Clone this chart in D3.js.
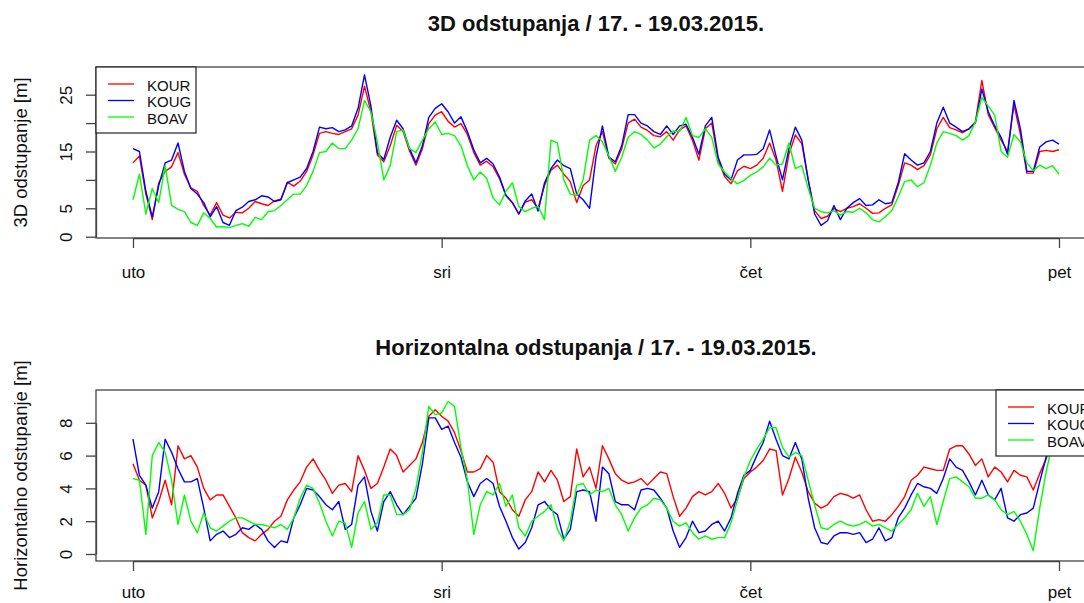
<!DOCTYPE html>
<html>
<head>
<meta charset="utf-8">
<script src="https://cdn.jsdelivr.net/npm/d3@7"></script>
<style>
  body { margin: 0; background: #fff; }
  svg { display: block; }
  text { font-family: "Liberation Sans", Arial, sans-serif; fill: #111; }
</style>
</head>
<body>
<svg id="chart" width="1084" height="603"></svg>
<script>
// Station names, colours and day labels
const seriesNames = ["KOUR", "KOUG", "BOAV"];
const seriesColors = ["#ff0000", "#0000ff", "#00ff00"];
const dayLabels = ["uto", "sri", "čet", "pet"];

// Sampling: half-hourly from Tuesday 17.03.2015 00:00
const startTime = new Date(2015, 2, 17, 0, 0);
const endTime = new Date(2015, 2, 20, 0, 0);
const stepMinutes = 30;

// 3D deviations [m]
const d3KOUR = [
  13.0, 14.2, 7.5, 3.0, 9.5, 11.5, 12.3, 14.8, 11.0, 8.6,
  8.0, 5.5, 3.8, 6.0, 3.8, 3.3, 4.3, 4.2, 5.0, 6.2,
  5.8, 5.5, 6.3, 6.6, 9.6, 8.9, 9.8, 11.5, 14.4, 18.2,
  18.5, 18.2, 18.0, 18.5, 19.0, 21.4, 26.5, 22.0, 14.4, 13.2,
  16.0, 19.6, 18.5, 15.1, 12.6, 15.5, 19.9, 21.4, 22.0, 20.3,
  19.3, 19.9, 18.0, 14.8, 12.6, 13.3, 12.3, 10.2, 7.2, 6.0,
  4.0, 6.1, 6.5, 5.0, 9.0, 11.7, 12.6, 11.0, 9.7, 6.0,
  9.0, 10.0, 16.0, 18.5, 13.8, 12.8, 15.5, 20.0, 20.7, 19.3,
  18.7, 17.8, 17.6, 18.5, 17.0, 18.8, 19.5, 17.0, 13.5, 19.0,
  20.0, 13.5, 10.6, 9.3, 11.6, 12.4, 12.0, 12.6, 13.8, 16.5,
  13.5, 8.0, 14.5, 17.9, 16.4, 10.0, 4.6, 3.2, 3.6, 5.0,
  4.4, 5.0, 5.3, 5.8, 5.0, 4.1, 4.2, 5.0, 5.6, 9.0,
  13.0, 12.6, 11.8, 12.5, 14.4, 19.0, 21.0, 19.2, 18.8, 18.3,
  19.0, 20.2, 27.5, 21.5, 19.2, 17.0, 15.0, 23.2, 18.0, 11.2,
  11.2, 15.0, 15.2, 15.0, 15.3
];
const d3KOUG = [
  15.5, 15.0, 8.0, 3.5, 9.0, 13.0, 13.5, 16.5, 11.5, 8.5,
  7.5, 6.0, 3.5, 5.3, 2.5, 2.0, 4.6, 5.2, 6.2, 6.5,
  7.2, 7.0, 6.2, 6.5, 9.5, 10.0, 10.5, 12.0, 15.0, 19.3,
  19.0, 19.2, 18.5, 18.8, 19.5, 22.6, 28.5, 23.0, 14.8, 13.6,
  17.5, 20.5, 19.0, 15.5, 13.0, 16.0, 21.0, 22.6, 23.4, 22.0,
  20.0, 21.1, 18.5, 15.3, 13.0, 13.8, 12.8, 10.5, 7.3, 6.0,
  4.0, 6.3, 7.5, 4.5, 9.5, 12.0, 13.5, 12.5, 12.0, 7.5,
  6.5, 5.0, 14.0, 19.5, 14.0, 13.2, 16.0, 21.5, 21.5, 20.0,
  19.5, 18.5, 18.0, 19.5, 18.0, 19.5, 19.8, 17.5, 14.5, 19.5,
  21.0, 14.0, 11.0, 10.0, 13.5, 14.4, 14.4, 14.5, 15.5, 18.8,
  14.2, 10.0, 15.5, 19.3, 17.0, 10.0, 4.0, 2.0, 2.8, 5.5,
  3.0, 5.0, 6.0, 6.7, 5.5, 5.6, 6.5, 5.8, 6.0, 9.5,
  14.6, 13.5, 12.6, 13.0, 15.0, 20.0, 22.8, 20.0, 19.3, 18.5,
  19.0, 20.0, 26.0, 22.0, 19.5, 17.5, 14.5, 24.0, 19.0, 11.5,
  11.5, 15.8, 16.7, 17.0, 16.3
];
const d3BOAV = [
  6.5, 11.0, 4.0, 8.5, 6.0, 12.5, 5.5, 4.8, 4.4, 2.5,
  2.0, 4.2, 3.2, 1.7, 1.8, 1.6, 2.0, 2.3, 1.8, 3.4,
  3.0, 4.4, 4.6, 5.5, 6.5, 7.5, 7.5, 9.0, 11.5, 14.8,
  15.0, 16.5, 15.5, 15.5, 17.0, 19.0, 24.0, 22.0, 16.7, 10.0,
  12.5, 18.5, 18.8, 15.5, 14.8, 17.0, 19.0, 20.2, 18.0, 18.2,
  17.8, 16.0, 12.5, 10.0, 11.4, 10.3, 6.8, 5.6, 8.0, 9.5,
  5.3, 4.4, 5.0, 5.3, 3.0, 17.0, 16.5, 10.0, 7.5, 7.3,
  10.0, 17.0, 17.8, 16.7, 14.2, 11.5, 14.0, 17.5, 18.5, 18.0,
  17.0, 15.6, 16.3, 17.6, 18.6, 18.5, 21.0, 17.8, 17.5, 19.0,
  17.5, 12.8, 11.4, 10.2, 9.3, 9.9, 10.8, 11.4, 12.3, 13.8,
  12.6, 12.8, 16.5, 12.0, 12.5, 8.5, 5.0, 4.4, 4.2, 4.6,
  3.8, 4.4, 4.3, 5.0, 4.2, 3.0, 2.6, 3.5, 4.6, 7.0,
  9.7, 10.0, 8.8, 9.5, 12.6, 16.5, 18.5, 18.2, 17.8, 17.0,
  17.8, 20.2, 24.5, 23.0, 21.4, 15.0, 14.0, 18.0, 16.7, 13.0,
  11.6, 12.6, 12.0, 12.5, 11.0
];

// Horizontal deviations [m]
const hKOUR = [
  5.5, 4.5, 4.2, 2.2, 3.2, 4.5, 3.0, 6.6, 5.8, 6.0,
  5.3, 4.0, 3.3, 3.6, 3.6, 2.9, 2.2, 1.3, 1.0, 0.8,
  1.2, 1.5, 2.0, 2.3, 3.3, 3.9, 4.4, 5.3, 5.8, 5.1,
  4.5, 3.7, 4.2, 4.3, 3.8, 6.0, 5.1, 4.0, 4.3, 5.3,
  6.4, 6.0, 5.0, 5.4, 5.8, 6.8, 8.4, 8.8, 8.4, 8.1,
  7.4, 6.3, 5.0, 5.0, 5.2, 6.0, 5.6, 3.8, 3.4, 2.7,
  2.3, 3.3, 3.8, 5.0, 4.4, 5.1, 4.5, 3.2, 3.5, 6.4,
  4.7, 5.3, 4.0, 6.6, 5.8, 4.9, 4.5, 4.3, 4.4, 4.6,
  4.2, 4.6, 5.0, 4.9, 3.5, 2.3, 2.8, 3.5, 3.8, 3.6,
  3.8, 4.3, 3.7, 2.8, 3.4, 4.6, 5.0, 5.3, 5.7, 6.4,
  6.3, 3.6, 4.6, 5.9, 5.0, 3.8, 3.1, 2.8, 3.0, 3.5,
  3.7, 3.6, 3.4, 3.6, 2.7, 2.0, 2.1, 2.0, 2.4, 2.9,
  3.5, 4.5, 4.8, 5.3, 5.2, 5.1, 5.1, 6.4, 6.6, 6.6,
  6.1, 5.4, 5.8, 4.7, 5.3, 5.0, 4.4, 5.1, 4.8, 4.7,
  3.9, 4.9, 5.8, 7.0, 7.5
];
const hKOUG = [
  7.0, 4.8, 4.2, 2.8, 3.8, 7.0, 6.2, 5.2, 4.4, 4.4,
  4.6, 2.8, 0.8, 1.2, 1.4, 1.0, 1.2, 1.6, 1.5, 1.8,
  1.5, 0.8, 0.4, 0.8, 0.7, 2.2, 3.0, 4.0, 3.9, 3.5,
  3.0, 2.7, 3.2, 1.5, 1.8, 4.2, 4.7, 2.6, 1.4, 3.2,
  3.8, 3.0, 2.4, 2.9, 3.4, 5.5, 8.3, 8.3, 7.6, 7.8,
  6.8, 5.9, 4.4, 3.5, 4.3, 4.6, 4.3, 2.9, 2.0, 1.0,
  0.3, 0.7, 1.6, 3.0, 3.2, 2.7, 2.4, 0.9, 1.5, 3.8,
  3.9, 3.8, 2.0, 5.3, 4.9, 3.2, 3.0, 3.0, 2.7, 3.9,
  4.0, 3.9, 3.4, 2.8, 1.4, 0.4, 1.0, 2.0, 1.3, 1.4,
  1.8, 2.0, 1.4, 2.2, 3.7, 4.8, 5.1, 6.0, 6.8, 8.1,
  7.0, 6.0, 5.8, 6.8, 5.8, 3.4, 1.6, 0.7, 0.6, 1.1,
  1.3, 1.3, 1.2, 1.3, 0.7, 0.9, 1.6, 0.8, 1.0, 2.2,
  2.8, 3.6, 4.3, 4.1, 4.0, 3.7, 4.6, 5.8, 5.3, 5.1,
  4.4, 3.6, 4.5, 3.6, 3.3, 4.0, 2.2, 2.0, 2.4, 2.5,
  2.8, 4.4, 5.9, 7.0, 7.6
];
const hBOAV = [
  4.6, 4.5, 1.2, 6.0, 6.8, 6.2, 4.5, 1.8, 3.6, 2.0,
  1.3, 2.5, 1.6, 1.4, 1.7, 2.0, 2.2, 2.2, 2.0, 1.8,
  1.8, 1.7, 1.6, 1.8, 1.5, 2.2, 3.4, 4.2, 4.0, 3.1,
  2.0, 1.1, 2.0, 1.9, 0.4, 2.5, 3.2, 1.5, 1.9, 3.6,
  3.6, 2.4, 2.4, 2.7, 4.0, 6.2, 9.0, 8.5, 8.6, 9.3,
  9.0, 6.5, 4.5, 1.2, 3.0, 3.8, 3.6, 4.3, 2.9, 3.6,
  1.6, 1.1, 2.0, 2.3, 2.6, 3.0, 1.5, 0.8, 2.0, 4.2,
  4.3, 3.6, 3.9, 3.8, 4.0, 3.0, 2.4, 1.4, 2.2, 2.8,
  3.0, 3.4, 3.3, 2.8, 2.0, 1.7, 1.9, 1.3, 0.9, 1.1,
  0.9, 1.0, 1.0, 1.9, 3.3, 4.7, 5.7, 6.4, 7.0, 7.7,
  7.7, 6.5, 5.9, 6.2, 6.0, 4.5, 3.0, 1.6, 1.5, 1.8,
  2.0, 1.8, 1.7, 1.8, 2.0, 1.7, 1.8, 1.6, 1.4, 1.8,
  2.2, 2.7, 3.7, 2.9, 3.5, 1.8, 3.2, 4.6, 4.7, 4.4,
  4.1, 3.4, 3.4, 3.6, 3.3, 2.7, 2.4, 2.6, 2.0, 1.2,
  0.2, 2.8, 5.0, 6.8, 8.0
];

// Y tick values and their printed labels (labels that would collide are left blank)
const ticks3d = [0, 5, 10, 15, 20, 25];
const tickLabels3d = ["0", "5", "", "15", "", "25"];
const ticksH = [0, 2, 4, 6, 8];
const tickLabelsH = ["0", "2", "4", "6", "8"];

const svg = d3.select("#chart");
const plotLeft = 96, plotRight = 1096;

const x = d3.scaleTime().domain([startTime, endTime]).range([133, 1059]);
const dayTicks = d3.timeDay.range(startTime, d3.timeDay.offset(endTime, 1));

const panels = [
  {
    title: "3D odstupanja / 17. - 19.03.2015.",
    yTitle: "3D odstupanje [m]",
    top: 67, bottom: 238, titleY: 31, dayLabelY: 40,
    y: d3.scaleLinear().domain([0, 25]).range([236.7, 94.7]),
    ticks: ticks3d, tickLabels: tickLabels3d,
    series: [d3KOUR, d3KOUG, d3BOAV],
    legendLeft: 96
  },
  {
    title: "Horizontalna odstupanja / 17. - 19.03.2015.",
    yTitle: "Horizontalno odstupanje [m]",
    top: 390, bottom: 561, titleY: 355, dayLabelY: 37,
    y: d3.scaleLinear().domain([0, 8]).range([554, 422.8]),
    ticks: ticksH, tickLabels: tickLabelsH,
    series: [hKOUR, hKOUG, hBOAV],
    legendLeft: 996
  }
];

panels.forEach((p, pi) => {
  const g = svg.append("g");

  // clip region = plot box
  const clipId = "clip" + pi;
  svg.append("clipPath").attr("id", clipId)
    .append("rect").attr("x", plotLeft).attr("y", p.top)
    .attr("width", plotRight - plotLeft).attr("height", p.bottom - p.top);

  // series lines
  const line = d3.line()
    .x((d, i) => x(d3.timeMinute.offset(startTime, i * stepMinutes)))
    .y(d => p.y(d));
  const lines = g.append("g").attr("clip-path", `url(#${clipId})`);
  p.series.forEach((vals, si) => {
    lines.append("path")
      .datum(vals)
      .attr("fill", "none")
      .attr("stroke", seriesColors[si])
      .attr("stroke-width", 1.4)
      .attr("stroke-linejoin", "round")
      .attr("d", line);
  });

  // plot frame
  g.append("rect")
    .attr("x", plotLeft).attr("y", p.top)
    .attr("width", plotRight - plotLeft).attr("height", p.bottom - p.top)
    .attr("fill", "none").attr("stroke", "#444").attr("stroke-width", 1.3);

  // y axis
  const yAxis = g.append("g")
    .attr("transform", `translate(${plotLeft},0)`)
    .call(d3.axisLeft(p.y).tickValues(p.ticks).tickSize(10).tickSizeOuter(0)
      .tickFormat((d, i) => p.tickLabels[i]));
  yAxis.select(".domain").attr("stroke", "#444").attr("stroke-width", 1.3);
  yAxis.selectAll(".tick line").attr("stroke", "#444").attr("stroke-width", 1.3);
  yAxis.selectAll(".tick text")
    .attr("transform", "rotate(-90)")
    .attr("x", 0).attr("y", -24).attr("dy", 0)
    .attr("text-anchor", "middle")
    .attr("font-size", 17).attr("fill", "#111");

  // x axis
  const xAxis = g.append("g")
    .attr("transform", `translate(0,${p.bottom})`)
    .call(d3.axisBottom(x).tickValues(dayTicks).tickSize(10).tickSizeOuter(0)
      .tickFormat((d, i) => dayLabels[i]));
  xAxis.select(".domain").attr("stroke", "#444").attr("stroke-width", 1.3);
  xAxis.selectAll(".tick line").attr("stroke", "#444").attr("stroke-width", 1.3);
  xAxis.selectAll(".tick text")
    .attr("y", p.dayLabelY).attr("dy", 0)
    .attr("font-size", 17).attr("fill", "#111");

  // titles
  g.append("text")
    .attr("x", (plotLeft + plotRight) / 2).attr("y", p.titleY)
    .attr("text-anchor", "middle")
    .attr("font-size", 22).attr("font-weight", "bold")
    .text(p.title);

  g.append("text")
    .attr("transform", `translate(27,${(p.top + p.bottom) / 2}) rotate(-90)`)
    .attr("text-anchor", "middle")
    .attr("font-size", 18.5)
    .text(p.yTitle);

  // legend
  const lg = g.append("g").attr("transform", `translate(${p.legendLeft},${p.top})`);
  lg.append("rect").attr("width", 100).attr("height", 66)
    .attr("fill", "#fff").attr("stroke", "#222").attr("stroke-width", 1.2);
  seriesNames.forEach((name, si) => {
    const ry = 17 + si * 16.5;
    lg.append("line")
      .attr("x1", 12).attr("x2", 38).attr("y1", ry).attr("y2", ry)
      .attr("stroke", seriesColors[si]).attr("stroke-width", 1.3);
    lg.append("text")
      .attr("x", 51).attr("y", ry + 1.5).attr("dy", "0.35em")
      .attr("font-size", 15)
      .text(name);
  });
});
</script>
</body>
</html>
